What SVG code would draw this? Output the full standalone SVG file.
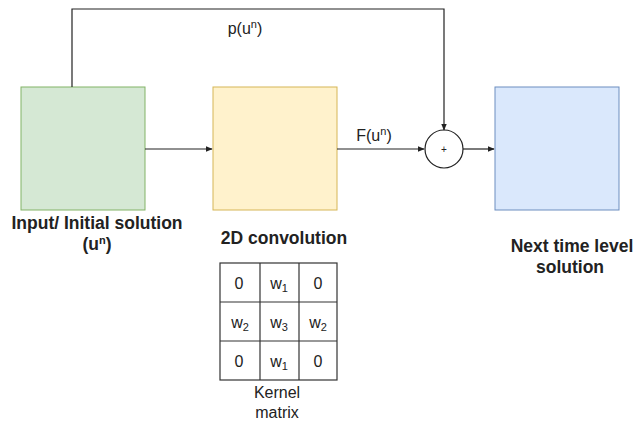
<svg xmlns="http://www.w3.org/2000/svg" width="636" height="427" viewBox="0 0 636 427">
<defs>
<style>
text{font-family:"Liberation Sans",Arial,sans-serif;fill:#222;}
.b{font-weight:bold;font-size:17.5px;}
.c{font-size:16px;}
.s{font-size:16px;}
.e{stroke:#222;stroke-width:1.2;fill:none;}
.g{stroke:#333;stroke-width:1.2;fill:none;}
</style>
<marker id="ah" viewBox="0 0 10 10" refX="9" refY="5" markerWidth="7" markerHeight="7" orient="auto" markerUnits="userSpaceOnUse">
<path d="M0,1 L10,5 L0,9 Z" fill="#222"/>
</marker>
</defs>
<rect width="636" height="427" fill="#fff"/>
<g id="input">
<rect x="21" y="87" width="124" height="123" fill="#d5e8d4" stroke="#82b366" stroke-width="1"/>
<text class="b" x="97" y="229" text-anchor="middle">Input/ Initial solution</text>
<text class="b" x="97" y="250" text-anchor="middle">(u<tspan font-size="11" dy="-6">n</tspan><tspan dy="6">)</tspan></text>
</g>
<g id="conv">
<rect x="213" y="87" width="124" height="123" fill="#fff2cc" stroke="#d6b656" stroke-width="1"/>
<text class="b" x="284" y="244" text-anchor="middle">2D convolution</text>
</g>
<g id="kernel">
<rect x="220" y="263" width="117" height="117" class="g"/>
<line x1="260" y1="263" x2="260" y2="380" class="g"/>
<line x1="299" y1="263" x2="299" y2="380" class="g"/>
<line x1="220" y1="302" x2="337" y2="302" class="g"/>
<line x1="220" y1="341" x2="337" y2="341" class="g"/>
<g class="c" text-anchor="middle" fill="#222">
<text x="239" y="289">0</text>
<text x="279" y="289">w<tspan font-size="11" dy="3">1</tspan></text>
<text x="318" y="289">0</text>
<text x="240" y="328">w<tspan font-size="11" dy="3">2</tspan></text>
<text x="279" y="328">w<tspan font-size="11" dy="3">3</tspan></text>
<text x="318" y="328">w<tspan font-size="11" dy="3">2</tspan></text>
<text x="239" y="367">0</text>
<text x="279" y="367">w<tspan font-size="11" dy="3">1</tspan></text>
<text x="318" y="367">0</text>
</g>
<text class="s" x="277" y="398" text-anchor="middle" fill="#333">Kernel</text>
<text class="s" x="277" y="418" text-anchor="middle" fill="#333">matrix</text>
</g>
<g id="sum">
<circle cx="444" cy="149" r="19" fill="#fff" stroke="#222" stroke-width="1.2"/>
<text x="444" y="153" text-anchor="middle" font-size="10">+</text>
</g>
<g id="output">
<rect x="495" y="87" width="124" height="123" fill="#dae8fc" stroke="#6c8ebf" stroke-width="1"/>
<text class="b" x="572" y="252" text-anchor="middle">Next time level</text>
<text class="b" x="570" y="273" text-anchor="middle">solution</text>
</g>
<g id="connectors">
<polyline points="72,87 72,9 444,9 444,130" class="e" marker-end="url(#ah)"/>
<line x1="145" y1="149" x2="212" y2="149" class="e" marker-end="url(#ah)"/>
<line x1="337" y1="149" x2="424" y2="149" class="e" marker-end="url(#ah)"/>
<line x1="463" y1="149" x2="494" y2="149" class="e" marker-end="url(#ah)"/>
<text class="s" x="245" y="34" text-anchor="middle">p(u<tspan font-size="11" dy="-6">n</tspan><tspan dy="6">)</tspan></text>
<text class="s" x="374" y="141" text-anchor="middle">F(u<tspan font-size="11" dy="-6">n</tspan><tspan dy="6">)</tspan></text>
</g>
</svg>
